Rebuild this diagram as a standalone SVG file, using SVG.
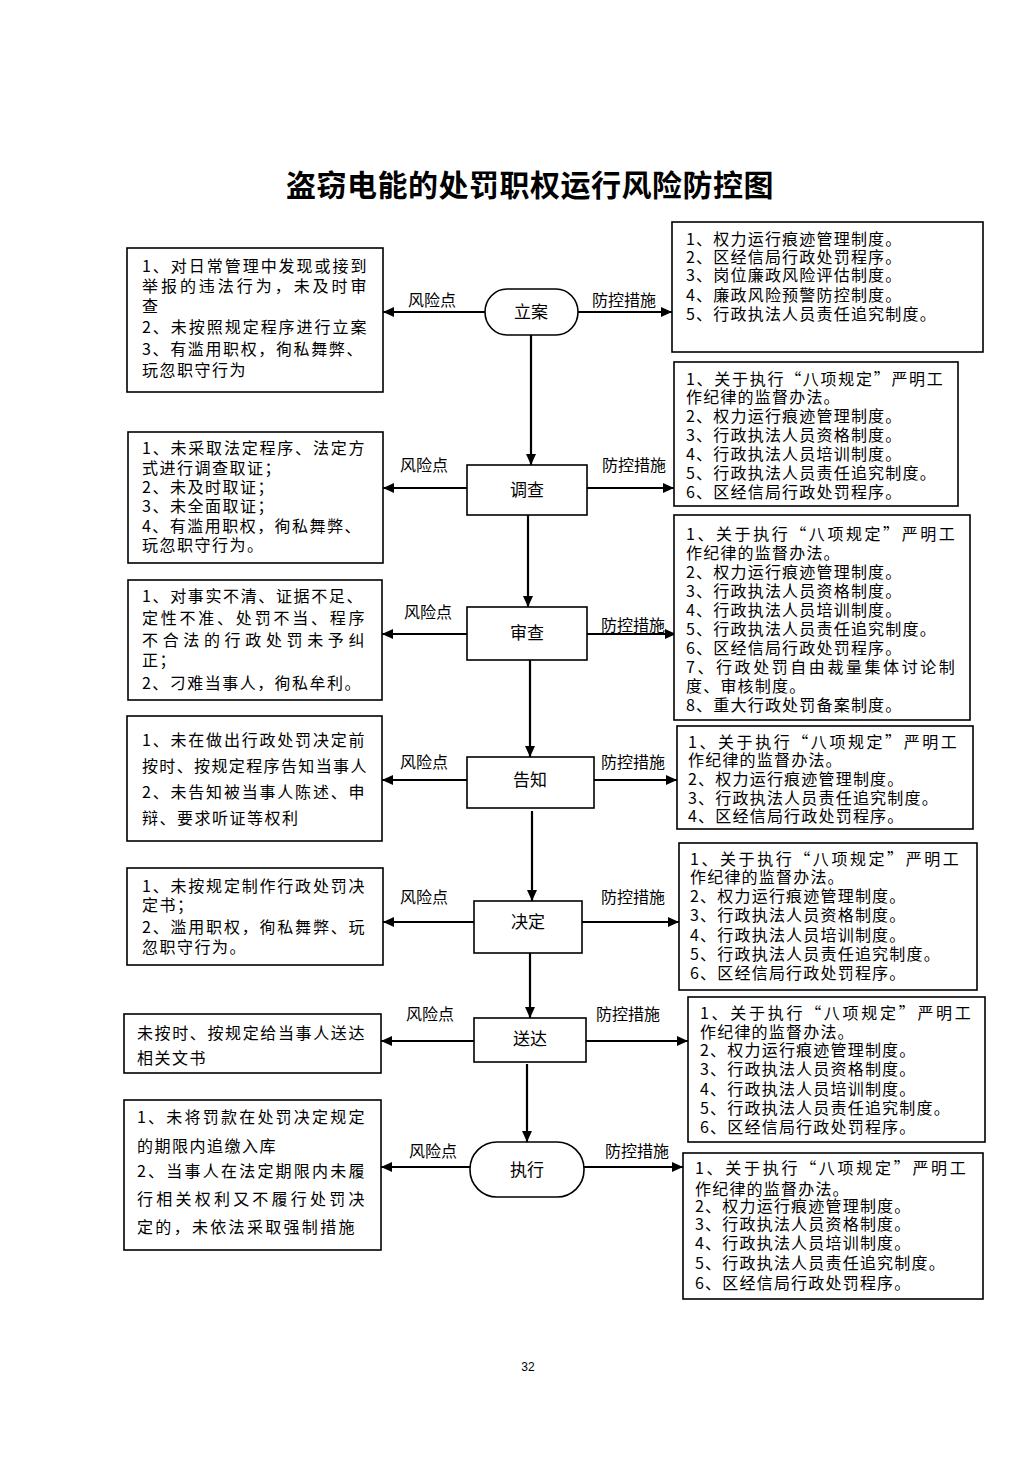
<svg xmlns="http://www.w3.org/2000/svg" width="1033" height="1461" viewBox="0 0 1033 1461">
<style>
text{font-family:"Noto Sans CJK SC","Noto Sans",sans-serif;fill:#000}
.title{font-size:30px;font-weight:bold;text-anchor:middle;letter-spacing:0.5px}
.box{fill:#fff;stroke:#000;stroke-width:1.6}
.t{font-size:16px;letter-spacing:1.5px}
.r{font-size:16px;letter-spacing:1.2px}
.n{font-size:17px;text-anchor:middle}
.lb{font-size:16px;text-anchor:middle}
.c line{stroke:#000;stroke-width:2.2;marker-end:url(#ah)}
.pg{font-size:12px;text-anchor:middle;font-family:"Liberation Sans",sans-serif}
</style>
<defs>
<marker id="ah" markerUnits="userSpaceOnUse" markerWidth="12" markerHeight="12" refX="11" refY="6" orient="auto">
<path d="M0,1 L11,6 L0,11 Z" fill="#000"/>
</marker>
</defs>
<rect width="1033" height="1461" fill="#fff"/>
<text class="title" x="530" y="196">盗窃电能的处罚职权运行风险防控图</text>

<g class="c" id="connectors">
<line x1="485" y1="312" x2="383" y2="312"/>
<line x1="578" y1="312" x2="672" y2="312"/>
<line x1="531" y1="335" x2="531" y2="465"/>
<line x1="467" y1="488" x2="383" y2="488"/>
<line x1="587" y1="488" x2="674" y2="488"/>
<line x1="528" y1="515" x2="528" y2="607"/>
<line x1="467" y1="634" x2="382" y2="634"/>
<line x1="587" y1="634" x2="676" y2="634"/>
<line x1="530" y1="660" x2="530" y2="757"/>
<line x1="467" y1="780" x2="382" y2="780"/>
<line x1="594" y1="780" x2="677" y2="780"/>
<line x1="532" y1="811" x2="532" y2="901"/>
<line x1="474" y1="922" x2="383" y2="922"/>
<line x1="582" y1="922" x2="679" y2="922"/>
<line x1="530" y1="953" x2="530" y2="1018"/>
<line x1="474" y1="1041" x2="381" y2="1041"/>
<line x1="586" y1="1041" x2="688" y2="1041"/>
<line x1="527" y1="1064" x2="527" y2="1142"/>
<line x1="470" y1="1167" x2="381" y2="1167"/>
<line x1="584" y1="1167" x2="683" y2="1167"/>
</g>

<g id="labels">
<text class="lb" x="432" y="306">风险点</text><text class="lb" x="624" y="306">防控措施</text>
<text class="lb" x="424" y="471">风险点</text><text class="lb" x="634" y="471">防控措施</text>
<text class="lb" x="428" y="618">风险点</text><text class="lb" x="633" y="631">防控措施</text>
<text class="lb" x="424" y="768">风险点</text><text class="lb" x="633" y="768">防控措施</text>
<text class="lb" x="424" y="903">风险点</text><text class="lb" x="633" y="903">防控措施</text>
<text class="lb" x="430" y="1020">风险点</text><text class="lb" x="628" y="1020">防控措施</text>
<text class="lb" x="433" y="1157">风险点</text><text class="lb" x="637" y="1157">防控措施</text>
</g>

<g id="n-lian"><rect class="box" x="485" y="289" width="93" height="46" rx="22" ry="23"/><text class="n" x="531" y="318">立案</text></g>
<g id="n-diaocha"><rect class="box" x="467" y="465" width="120" height="50"/><text class="n" x="527" y="496">调查</text></g>
<g id="n-shencha"><rect class="box" x="467" y="607" width="120" height="53"/><text class="n" x="527" y="639">审查</text></g>
<g id="n-gaozhi"><rect class="box" x="467" y="757" width="127" height="51"/><text class="n" x="530" y="786">告知</text></g>
<g id="n-jueding"><rect class="box" x="474" y="901" width="108" height="52"/><text class="n" x="528" y="928">决定</text></g>
<g id="n-songda"><rect class="box" x="474" y="1018" width="112" height="44"/><text class="n" x="530" y="1045">送达</text></g>
<g id="n-zhixing"><rect class="box" x="470" y="1142" width="114" height="55" rx="27" ry="27"/><text class="n" x="527" y="1176">执行</text></g>

<g id="risk-1"><rect class="box" x="127" y="248" width="256" height="144"/>
<text class="t"><tspan x="142" y="272" textLength="226">1、对日常管理中发现或接到</tspan><tspan x="142" y="292" textLength="226">举报的违法行为，未及时审</tspan><tspan x="142" y="312">查</tspan><tspan x="142" y="333" textLength="226">2、未按照规定程序进行立案</tspan><tspan x="142" y="355" textLength="222">3、有滥用职权，徇私舞弊、</tspan><tspan x="142" y="376">玩忽职守行为</tspan></text></g>

<g id="risk-2"><rect class="box" x="128" y="432" width="255" height="131"/>
<text class="t"><tspan x="142" y="454" textLength="224">1、未采取法定程序、法定方</tspan><tspan x="142" y="474">式进行调查取证；</tspan><tspan x="142" y="493">2、未及时取证；</tspan><tspan x="142" y="512">3、未全面取证；</tspan><tspan x="142" y="532" textLength="220">4、有滥用职权，徇私舞弊、</tspan><tspan x="142" y="551">玩忽职守行为。</tspan></text></g>

<g id="risk-3"><rect class="box" x="128" y="580" width="254" height="120"/>
<text class="t"><tspan x="142" y="602" textLength="222">1、对事实不清、证据不足、</tspan><tspan x="142" y="624" textLength="224">定性不准、处罚不当、程序</tspan><tspan x="142" y="646" textLength="224">不合法的行政处罚未予纠</tspan><tspan x="142" y="666">正；</tspan><tspan x="142" y="689" textLength="220">2、刁难当事人，徇私牟利。</tspan></text></g>

<g id="risk-4"><rect class="box" x="127" y="716" width="255" height="125"/>
<text class="t"><tspan x="142" y="746" textLength="224">1、未在做出行政处罚决定前</tspan><tspan x="142" y="772" textLength="226">按时、按规定程序告知当事人</tspan><tspan x="142" y="798" textLength="224">2、未告知被当事人陈述、申</tspan><tspan x="142" y="824">辩、要求听证等权利</tspan></text></g>

<g id="risk-5"><rect class="box" x="127" y="868" width="256" height="97"/>
<text class="t"><tspan x="142" y="892" textLength="224">1、未按规定制作行政处罚决</tspan><tspan x="142" y="911">定书；</tspan><tspan x="142" y="933" textLength="224">2、滥用职权，徇私舞弊、玩</tspan><tspan x="142" y="953">忽职守行为。</tspan></text></g>

<g id="risk-6"><rect class="box" x="124" y="1014" width="257" height="59"/>
<text class="t"><tspan x="137" y="1039" textLength="229">未按时、按规定给当事人送达</tspan><tspan x="137" y="1064">相关文书</tspan></text></g>

<g id="risk-7"><rect class="box" x="124" y="1100" width="257" height="150"/>
<text class="t"><tspan x="137" y="1123" textLength="229">1、未将罚款在处罚决定规定</tspan><tspan x="137" y="1152">的期限内追缴入库</tspan><tspan x="137" y="1177" textLength="229">2、当事人在法定期限内未履</tspan><tspan x="137" y="1205" textLength="229">行相关权利又不履行处罚决</tspan><tspan x="137" y="1233" textLength="219">定的，未依法采取强制措施</tspan></text></g>

<g id="ctrl-1"><rect class="box" x="672" y="222" width="311" height="130"/>
<text class="r"><tspan x="686" y="245">1、权力运行痕迹管理制度。</tspan><tspan x="686" y="263">2、区经信局行政处罚程序。</tspan><tspan x="686" y="281">3、岗位廉政风险评估制度。</tspan><tspan x="686" y="301">4、廉政风险预警防控制度。</tspan><tspan x="686" y="320">5、行政执法人员责任追究制度。</tspan></text></g>

<g id="ctrl-2"><rect class="box" x="674" y="362" width="284" height="144"/>
<text class="r"><tspan x="686" y="385" textLength="258">1、关于执行“八项规定”严明工</tspan><tspan x="686" y="403">作纪律的监督办法。</tspan><tspan x="686" y="422">2、权力运行痕迹管理制度。</tspan><tspan x="686" y="441">3、行政执法人员资格制度。</tspan><tspan x="686" y="460">4、行政执法人员培训制度。</tspan><tspan x="686" y="479">5、行政执法人员责任追究制度。</tspan><tspan x="686" y="498">6、区经信局行政处罚程序。</tspan></text></g>

<g id="ctrl-3"><rect class="box" x="674" y="515" width="296" height="205"/>
<text class="r"><tspan x="686" y="540" textLength="270">1、关于执行“八项规定”严明工</tspan><tspan x="686" y="559">作纪律的监督办法。</tspan><tspan x="686" y="578">2、权力运行痕迹管理制度。</tspan><tspan x="686" y="597">3、行政执法人员资格制度。</tspan><tspan x="686" y="616">4、行政执法人员培训制度。</tspan><tspan x="686" y="635">5、行政执法人员责任追究制度。</tspan><tspan x="686" y="654">6、区经信局行政处罚程序。</tspan><tspan x="686" y="673" textLength="270">7、行政处罚自由裁量集体讨论制</tspan><tspan x="686" y="692">度、审核制度。</tspan><tspan x="686" y="711">8、重大行政处罚备案制度。</tspan></text></g>

<g id="ctrl-4"><rect class="box" x="677" y="726" width="296" height="103"/>
<text class="r"><tspan x="688" y="748" textLength="270">1、关于执行“八项规定”严明工</tspan><tspan x="688" y="766">作纪律的监督办法。</tspan><tspan x="688" y="785">2、权力运行痕迹管理制度。</tspan><tspan x="688" y="804">3、行政执法人员责任追究制度。</tspan><tspan x="688" y="822">4、区经信局行政处罚程序。</tspan></text></g>

<g id="ctrl-5"><rect class="box" x="679" y="843" width="298" height="147"/>
<text class="r"><tspan x="690" y="865" textLength="270">1、关于执行“八项规定”严明工</tspan><tspan x="690" y="883">作纪律的监督办法。</tspan><tspan x="690" y="902">2、权力运行痕迹管理制度。</tspan><tspan x="690" y="921">3、行政执法人员资格制度。</tspan><tspan x="690" y="941">4、行政执法人员培训制度。</tspan><tspan x="690" y="960">5、行政执法人员责任追究制度。</tspan><tspan x="690" y="979">6、区经信局行政处罚程序。</tspan></text></g>

<g id="ctrl-6"><rect class="box" x="688" y="997" width="297" height="145"/>
<text class="r"><tspan x="700" y="1019" textLength="272">1、关于执行“八项规定”严明工</tspan><tspan x="700" y="1038">作纪律的监督办法。</tspan><tspan x="700" y="1056">2、权力运行痕迹管理制度。</tspan><tspan x="700" y="1075">3、行政执法人员资格制度。</tspan><tspan x="700" y="1095">4、行政执法人员培训制度。</tspan><tspan x="700" y="1114">5、行政执法人员责任追究制度。</tspan><tspan x="700" y="1133">6、区经信局行政处罚程序。</tspan></text></g>

<g id="ctrl-7"><rect class="box" x="683" y="1153" width="300" height="146"/>
<text class="r"><tspan x="695" y="1174" textLength="272">1、关于执行“八项规定”严明工</tspan><tspan x="695" y="1195">作纪律的监督办法。</tspan><tspan x="695" y="1212">2、权力运行痕迹管理制度。</tspan><tspan x="695" y="1230">3、行政执法人员资格制度。</tspan><tspan x="695" y="1249">4、行政执法人员培训制度。</tspan><tspan x="695" y="1269">5、行政执法人员责任追究制度。</tspan><tspan x="695" y="1289">6、区经信局行政处罚程序。</tspan></text></g>

<text class="pg" x="528" y="1371">32</text>
</svg>
